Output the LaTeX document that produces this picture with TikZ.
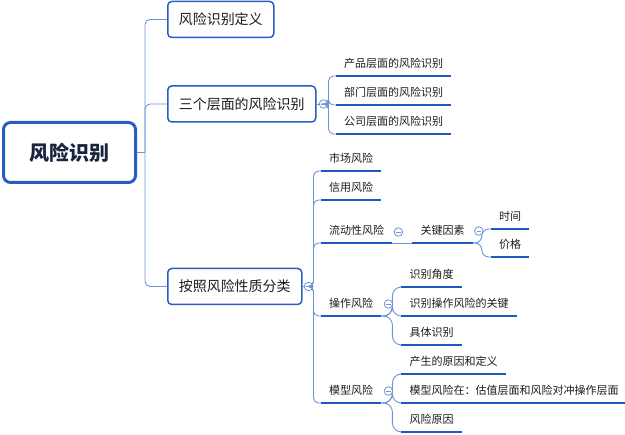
\documentclass[tikz,border=0pt]{standalone}
\usepackage{fontspec}
\setmainfont{Noto Sans CJK SC}
\definecolor{boxblue}{HTML}{2A5CC4}
\definecolor{lineblue}{HTML}{6B95D6}
\definecolor{darkblue}{HTML}{1F58C0}
\definecolor{textdark}{HTML}{1C1C1C}
\definecolor{rootnavy}{HTML}{1A2340}
\begin{document}
\begin{tikzpicture}[x=1pt,y=-1pt,
  box/.style={draw=boxblue,line width=1.5pt,rounded corners=4pt,fill=white,text=textdark,
    font=\fontsize{14}{14}\selectfont,minimum height=36pt,inner xsep=11pt,anchor=west},
  sub/.style={font=\fontsize{11}{11}\selectfont,text=textdark,inner xsep=8pt,inner ysep=7pt,anchor=south west},
  line/.style={draw=lineblue,line width=0.9pt,rounded corners=5pt},
  under/.style={draw=darkblue,line width=2.4pt},
  fold/.style={circle,draw=lineblue,fill=white,line width=0.8pt,minimum size=8.5pt,inner sep=0pt,
    path picture={\draw[lineblue,line width=0.8pt] ([xshift=-2.3pt]path picture bounding box.center)
      -- ([xshift=2.3pt]path picture bounding box.center);}}]
\useasboundingbox (0,0) rectangle (625,435);

\node[draw=boxblue,line width=3pt,rounded corners=7pt,minimum width=132pt,minimum height=60pt,
  font=\fontsize{20}{20}\selectfont\bfseries,text=rootnavy] (root) at (69.5,152.5) {风险识别};
\node[box] (def) at (167,19.5) {风险识别定义};
\node[box] (level) at (167,104) {三个层面的风险识别};
\node[box] (nature) at (167,286.5) {按照风险性质分类};

\coordinate (trunk) at ([xshift=8pt]root.east);
\draw[line] (root.east) -- (trunk);
\foreach \n in {def,level,nature}
  \draw[line] (trunk) |- (\n.west);

\node[sub] (prod) at (336,76) {产品层面的风险识别};
\node[sub] (dept) at (336,105) {部门层面的风险识别};
\node[sub] (corp) at (336,134) {公司层面的风险识别};
\node[fold] (f1) at ([xshift=7pt]level.east) {};
\coordinate (b1) at ([xshift=5pt]f1.center);
\draw[line] (level.east) -- (f1);
\foreach \n in {prod,dept,corp}
  \draw[line] (f1) -- (b1) |- (\n.south west);

\node[sub] (market) at (321,171) {市场风险};
\node[sub] (credit) at (321,200) {信用风险};
\node[sub] (liq) at (321,243) {流动性风险};
\node[sub] (op) at (321,316) {操作风险};
\node[sub] (model) at (321,403) {模型风险};
\node[fold] (f2) at ([xshift=6pt]nature.east) {};
\coordinate (b2) at ([xshift=5pt]f2.center);
\draw[line] (nature.east) -- (f2);
\foreach \n in {market,credit,liq,op,model}
  \draw[line] (f2) -- (b2) |- (\n.south west);

\node[sub] (key) at ([xshift=20pt]liq.south east) {关键因素};
\node[sub] (time) at ([shift={(18,-14)}]key.south east) {时间};
\node[sub] (price) at ([shift={(18,14)}]key.south east) {价格};
\draw[line] (liq.south east) -- (key.south west);
\coordinate (b4) at ([xshift=9pt]key.south east);
\foreach \n in {time,price}
  \draw[line,rounded corners=7pt] (key.south east) -- (b4) |- (\n.south west);

\node[sub] (angle) at ([shift={(20,-29)}]op.south east) {识别角度};
\node[sub] (opkey) at ([xshift=20pt]op.south east) {识别操作风险的关键};
\node[sub] (concrete) at ([shift={(20,29)}]op.south east) {具体识别};
\coordinate (b5) at ([xshift=11pt]op.south east);
\foreach \n in {angle,opkey,concrete}
  \draw[line,rounded corners=9pt] (op.south east) -- (b5) |- (\n.south west);

\node[sub] (cause) at ([shift={(20,-29)}]model.south east) {产生的原因和定义};
\node[sub] (where) at ([xshift=20pt]model.south east) {模型风险在：估值层面和风险对冲操作层面};
\node[sub] (reason) at ([shift={(20,29)}]model.south east) {风险原因};
\coordinate (b6) at ([xshift=11pt]model.south east);
\foreach \n in {cause,where,reason}
  \draw[line,rounded corners=9pt] (model.south east) -- (b6) |- (\n.south west);

\foreach \n in {prod,dept,corp,market,credit,liq,op,model,key,time,price,
  angle,opkey,concrete,cause,where,reason}
  \draw[under] (\n.south west) -- (\n.south east);

\node[fold] (f3) at ([shift={(6,-11)}]liq.south east) {};
\node[fold] (f4) at ([shift={(6,-12)}]key.south east) {};
\node[fold] (f5) at ([shift={(7,-12)}]op.south east) {};
\node[fold] (f6) at ([shift={(7,-12)}]model.south east) {};
\end{tikzpicture}
\end{document}
